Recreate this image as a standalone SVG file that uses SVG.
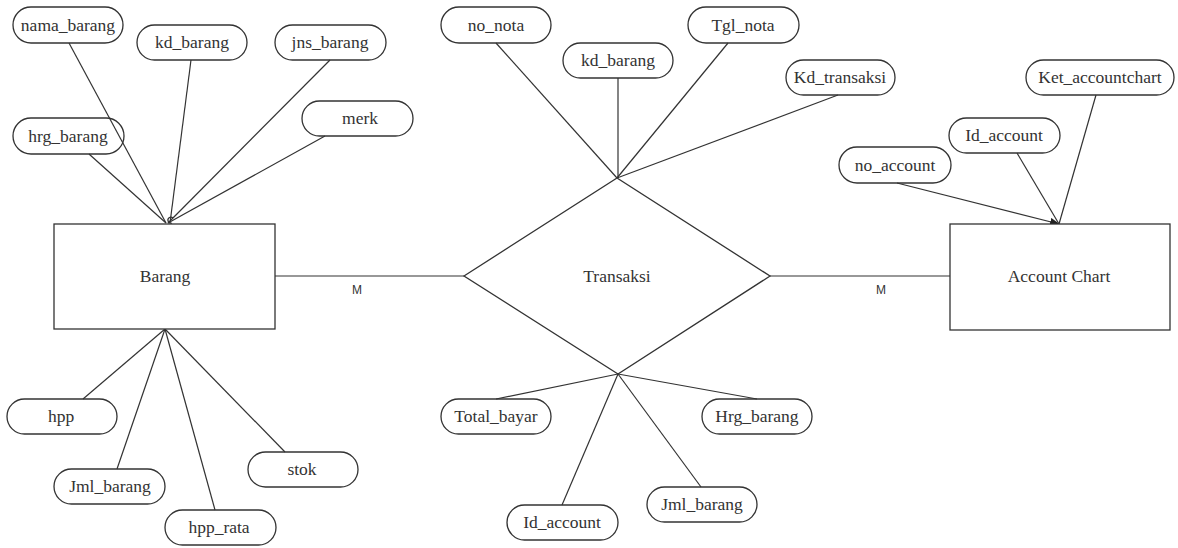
<svg xmlns="http://www.w3.org/2000/svg" width="1178" height="548" viewBox="0 0 1178 548">
<style>
.a{fill:none;stroke:#333;stroke-width:1.3}
.e{fill:#fff;stroke:#333;stroke-width:1.3}
.t{font-family:"Liberation Serif",serif;font-size:17.5px;fill:#333;text-anchor:middle}
.m{font-family:"Liberation Sans",sans-serif;font-size:12px;fill:#333;text-anchor:middle}
#connectors line,#connectors path{stroke:#333;stroke-width:1.2;fill:none}
</style>
<defs>
<marker id="arr" markerWidth="10" markerHeight="8" refX="9" refY="4" orient="auto" markerUnits="userSpaceOnUse">
<path d="M0,0 L10,4 L0,8 z" fill="#222"/>
</marker>
</defs>
<rect width="1178" height="548" fill="#fff"/>
<g id="connectors">
<line x1="69" y1="43" x2="166" y2="223"/>
<line x1="191" y1="60" x2="170" y2="223"/>
<line x1="330" y1="60" x2="168" y2="223"/>
<line x1="325" y1="136" x2="168" y2="223"/>
<line x1="89" y1="154" x2="166" y2="223"/>
<path d="M173,218 a3,3 0 1 0 -1,5"/>
<line x1="83" y1="399" x2="165" y2="329"/>
<line x1="117" y1="469" x2="165" y2="329"/>
<line x1="215" y1="510" x2="165" y2="329"/>
<line x1="285" y1="452" x2="165" y2="329"/>
<line x1="275" y1="276" x2="464" y2="276"/>
<line x1="770" y1="276" x2="950" y2="276"/>
<line x1="496" y1="43" x2="617" y2="178"/>
<line x1="618" y1="78" x2="618" y2="178"/>
<line x1="728" y1="43" x2="617" y2="178"/>
<line x1="838" y1="95" x2="617" y2="178"/>
<line x1="496" y1="399" x2="618" y2="374"/>
<line x1="757" y1="399" x2="618" y2="374"/>
<line x1="701" y1="487" x2="618" y2="374"/>
<line x1="562" y1="505" x2="618" y2="374"/>
<line x1="897" y1="183" x2="1059" y2="224" marker-end="url(#arr)"/>
<line x1="1017" y1="153" x2="1059" y2="224"/>
<line x1="1096" y1="95" x2="1059" y2="224"/>
</g>
<text class="m" x="357" y="294">M</text>
<text class="m" x="881" y="294">M</text>
<g id="barang"><rect class="e" x="54" y="224" width="221" height="105"/><text class="t" x="165" y="282">Barang</text></g>
<g id="transaksi"><polygon class="e" points="464,276 617,178 770,276 618,374"/><text class="t" x="617" y="282">Transaksi</text></g>
<g id="account_chart"><rect class="e" x="950" y="224" width="220" height="106"/><text class="t" x="1059" y="282">Account Chart</text></g>
<g id="a_nama_barang"><rect class="a" x="13" y="7" width="110" height="36" rx="18"/><text class="t" x="68" y="31">nama_barang</text></g>
<g id="a_kd_barang1"><rect class="a" x="137" y="25" width="110" height="35" rx="17.5"/><text class="t" x="192" y="48">kd_barang</text></g>
<g id="a_jns_barang"><rect class="a" x="275" y="25" width="111" height="35" rx="17.5"/><text class="t" x="330" y="48">jns_barang</text></g>
<g id="a_merk"><rect class="a" x="302" y="101" width="111" height="35" rx="17.5"/><text class="t" x="360" y="124">merk</text></g>
<g id="a_hrg_barang"><rect class="a" x="13" y="118" width="111" height="36" rx="18"/><text class="t" x="68" y="142">hrg_barang</text></g>
<g id="a_hpp"><rect class="a" x="7" y="399" width="110" height="35" rx="17.5"/><text class="t" x="61" y="422">hpp</text></g>
<g id="a_jml_barang1"><rect class="a" x="54" y="469" width="111" height="35" rx="17.5"/><text class="t" x="110" y="492">Jml_barang</text></g>
<g id="a_hpp_rata"><rect class="a" x="165" y="510" width="111" height="35" rx="17.5"/><text class="t" x="219" y="533">hpp_rata</text></g>
<g id="a_stok"><rect class="a" x="248" y="452" width="110" height="35" rx="17.5"/><text class="t" x="302" y="475">stok</text></g>
<g id="a_no_nota"><rect class="a" x="441" y="7" width="110" height="36" rx="18"/><text class="t" x="496" y="31">no_nota</text></g>
<g id="a_kd_barang2"><rect class="a" x="563" y="43" width="110" height="35" rx="17.5"/><text class="t" x="618" y="66">kd_barang</text></g>
<g id="a_tgl_nota"><rect class="a" x="688" y="7" width="111" height="36" rx="18"/><text class="t" x="743" y="31">Tgl_nota</text></g>
<g id="a_kd_transaksi"><rect class="a" x="786" y="60" width="109" height="35" rx="17.5"/><text class="t" x="840" y="83">Kd_transaksi</text></g>
<g id="a_ket_accountchart"><rect class="a" x="1026" y="60" width="148" height="35" rx="17.5"/><text class="t" x="1100" y="83">Ket_accountchart</text></g>
<g id="a_id_account1"><rect class="a" x="949" y="118" width="111" height="35" rx="17.5"/><text class="t" x="1004" y="141">Id_account</text></g>
<g id="a_no_account"><rect class="a" x="839" y="147" width="112" height="36" rx="18"/><text class="t" x="895" y="171">no_account</text></g>
<g id="a_total_bayar"><rect class="a" x="441" y="399" width="110" height="35" rx="17.5"/><text class="t" x="496" y="422">Total_bayar</text></g>
<g id="a_hrg_barang2"><rect class="a" x="702" y="399" width="110" height="35" rx="17.5"/><text class="t" x="757" y="422">Hrg_barang</text></g>
<g id="a_jml_barang2"><rect class="a" x="647" y="487" width="110" height="35" rx="17.5"/><text class="t" x="702" y="510">Jml_barang</text></g>
<g id="a_id_account2"><rect class="a" x="507" y="505" width="111" height="35" rx="17.5"/><text class="t" x="562" y="528">Id_account</text></g>
</svg>
